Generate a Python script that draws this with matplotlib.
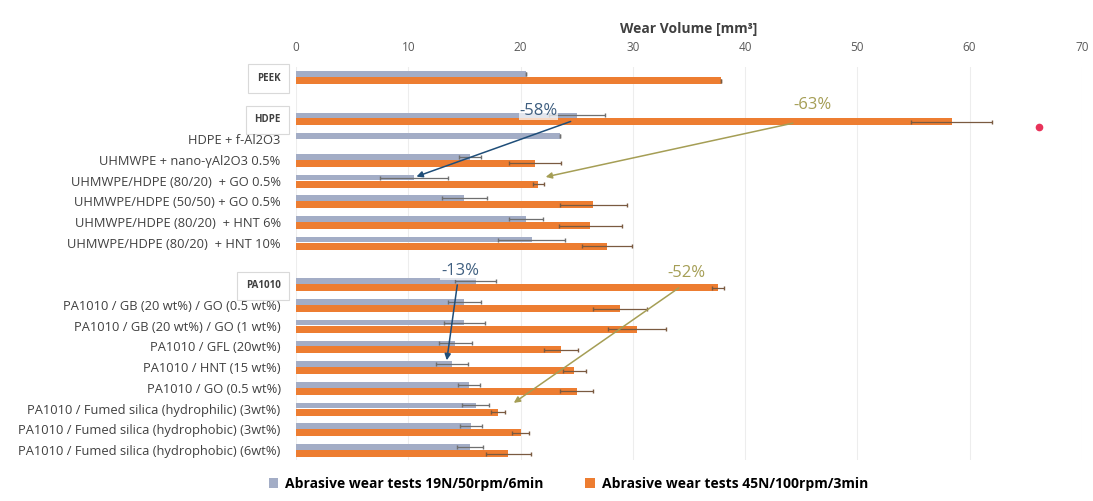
import numpy as np
import matplotlib.pyplot as plt

# materials, top to bottom ('' = spacer row)
materials = ["PEEK", "", "HDPE", "HDPE + f-Al2O3", "UHMWPE + nano-γAl2O3 0.5%",
             "UHMWPE/HDPE (80/20)  + GO 0.5%", "UHMWPE/HDPE (50/50) + GO 0.5%",
             "UHMWPE/HDPE (80/20)  + HNT 6%", "UHMWPE/HDPE (80/20)  + HNT 10%", "",
             "PA1010", "PA1010 / GB (20 wt%) / GO (0.5 wt%)", "PA1010 / GB (20 wt%) / GO (1 wt%)",
             "PA1010 / GFL (20wt%)", "PA1010 / HNT (15 wt%)", "PA1010 / GO (0.5 wt%)",
             "PA1010 / Fumed silica (hydrophilic) (3wt%)",
             "PA1010 / Fumed silica (hydrophobic) (3wt%)",
             "PA1010 / Fumed silica (hydrophobic) (6wt%)"]
boxed = ["PEEK", "HDPE", "PA1010"]

nan = np.nan
wear_19n = [20.5, nan, 25.0, 23.5, 15.5, 10.5, 15.0, 20.5, 21.0, nan,
            16.0, 15.0, 15.0, 14.2, 13.9, 15.4, 16.0, 15.6, 15.5]
err_19n = [0, 0, 2.5, 0, 1.0, 3.0, 2.0, 1.5, 3.0, 0,
           1.8, 1.5, 1.8, 1.5, 1.4, 1.0, 1.2, 1.0, 1.2]
wear_45n = [37.9, nan, 58.4, nan, 21.3, 21.6, 26.5, 26.2, 27.7, nan,
            37.6, 28.9, 30.4, 23.6, 24.8, 25.0, 18.0, 20.0, 18.9]
err_45n = [0, 0, 3.6, 0, 2.3, 0.5, 3.0, 2.8, 2.2, 0,
           0.5, 2.4, 2.6, 1.5, 1.0, 1.5, 0.6, 0.8, 2.0]

label_19n = "Abrasive wear tests 19N/50rpm/6min"
label_45n = "Abrasive wear tests 45N/100rpm/3min"
grey = "#A3ADC6"
orange = "#ED7D31"

plt.rcParams['font.family'] = ['Open Sans', 'DejaVu Sans']

fig = plt.figure(figsize=(10.93, 5.01), dpi=100)
ax = fig.add_axes([0.2708, 0.081, 0.7190, 0.786])

y = np.arange(len(materials))
ax.barh(y - 0.15, wear_19n, height=0.27, color=grey, label=label_19n,
        xerr=err_19n, error_kw=dict(ecolor="#6F6F6F", lw=0.9, capsize=1.5))
ax.barh(y + 0.17, wear_45n, height=0.34, color=orange, label=label_45n,
        xerr=err_45n, error_kw=dict(ecolor="#7A5A40", lw=0.9, capsize=1.5))

ax.set_xlim(0, 70)
ax.set_ylim(len(materials) - 0.5, -0.5)
ax.set_yticks(y)
ax.set_yticklabels(materials, fontsize=9.3, color="#404040")
for t in ax.get_yticklabels():
    if t.get_text() in boxed:
        t.set_fontweight("bold")
        t.set_fontsize(7)
        t.set_bbox(dict(boxstyle="square,pad=0.9", fc="white", ec="#D9D9D9", lw=0.8))

ax.xaxis.tick_top()
ax.xaxis.set_label_position("top")
ax.set_xticks(np.arange(0, 71, 10))
ax.tick_params(axis="x", length=0, labelsize=8.5, labelcolor="#595959", pad=9)
ax.tick_params(axis="y", length=0, pad=11)
ax.set_xlabel("Wear Volume [mm³]", fontsize=10, fontweight="bold", color="#404040", labelpad=6)
ax.grid(axis="x", color="#EDEDED", lw=0.8)
ax.set_axisbelow(True)
for s in ax.spines.values():
    s.set_visible(False)

# reduction arrows
blue = "#1F4E79"
olive = "#A59E55"
i_hdpe, i_go = 2, 5
i_pa, i_hnt, i_fs = 10, 14, 16
ax.annotate("", xy=(wear_19n[i_go], i_go - 0.15), xytext=(wear_19n[i_hdpe] - 0.3, i_hdpe + 0.1),
            arrowprops=dict(arrowstyle="-|>", color=blue, lw=1.1, mutation_scale=9))
ax.text(21.6, 1.85, "-58%", fontsize=12, color="#3F5F80", ha="center",
        bbox=dict(fc="white", ec="none", alpha=0.7, pad=0.5))
ax.annotate("", xy=(wear_45n[i_go] + 0.4, i_go - 0.15), xytext=(44.5, i_hdpe + 0.2),
            arrowprops=dict(arrowstyle="-|>", color=olive, lw=1.1, mutation_scale=9))
ax.text(46.0, 1.55, "-63%", fontsize=12, color=olive, ha="center",
        bbox=dict(fc="white", ec="none", alpha=0.7, pad=0.5))
ax.annotate("", xy=(wear_19n[i_hnt] - 0.5, i_hnt - 0.2), xytext=(14.4, i_pa - 0.1),
            arrowprops=dict(arrowstyle="-|>", color=blue, lw=1.1, mutation_scale=9))
ax.text(14.6, 9.55, "-13%", fontsize=12, color="#3F5F80", ha="center",
        bbox=dict(fc="white", ec="none", alpha=0.7, pad=0.5))
ax.annotate("", xy=(wear_45n[i_fs] + 1.2, i_fs - 0.2), xytext=(34.3, i_pa + 0.1),
            arrowprops=dict(arrowstyle="-|>", color=olive, lw=1.1, mutation_scale=9))
ax.text(34.8, 9.65, "-52%", fontsize=12, color=olive, ha="center",
        bbox=dict(fc="white", ec="none", alpha=0.7, pad=0.5))

# red marker next to HDPE
ax.plot([66.2], [2.4], marker="o", ms=4.5, color="#E8335A", clip_on=False)

fig.legend(loc="lower center", bbox_to_anchor=(0.52, -0.005), ncol=2, frameon=False,
           handlelength=0.7, handleheight=0.7, handletextpad=0.5, columnspacing=3.0,
           prop=dict(weight="bold", size=10))

fig.savefig("out.png", dpi=100, facecolor="white")
